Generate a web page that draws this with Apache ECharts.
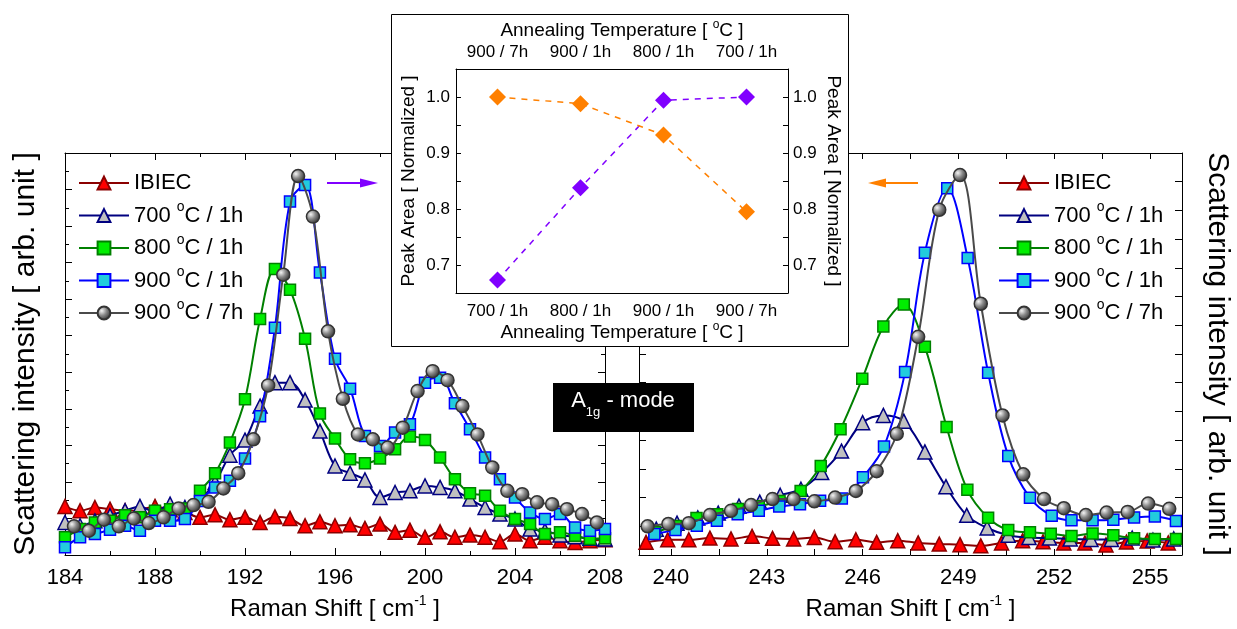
<!DOCTYPE html>
<html>
<head>
<meta charset="utf-8">
<script src="https://cdn.jsdelivr.net/npm/echarts@6/dist/echarts.min.js"></script>
<style>html,body{margin:0;padding:0;background:#fff;}#c{width:1237px;height:629px;}</style>
</head>
<body>
<div id="c"></div>
<script>
// ---------- DATA ----------
// Left panel (Raman shift 184-208 cm-1)
const L_X = [184.00,184.67,185.33,186.00,186.67,187.33,188.00,188.67,189.33,190.00,190.67,191.33,192.00,192.67,193.33,194.00,194.67,195.33,196.00,196.67,197.33,198.00,198.67,199.33,200.00,200.67,201.33,202.00,202.67,203.33,204.00,204.67,205.33,206.00,206.67,207.33,208.00];
const L_X_7H = [184.40,185.06,185.73,186.39,187.06,187.72,188.38,189.05,189.71,190.38,191.04,191.70,192.37,193.03,193.70,194.36,195.02,195.69,196.35,197.02,197.68,198.34,199.01,199.67,200.34,201.00,201.66,202.33,202.99,203.66,204.32,204.98,205.65,206.31,206.98,207.64];
const L_IBIEC = [2.66,2.42,2.60,2.51,2.42,2.47,2.66,2.47,2.33,2.06,2.20,1.93,2.06,1.78,2.09,2.00,1.60,1.82,1.60,1.65,1.46,1.69,1.24,1.36,0.97,1.27,0.97,1.09,0.97,0.73,1.15,0.78,0.97,0.78,0.69,0.78,0.84];
const L_700 = [1.78,1.60,1.87,2.15,2.42,2.66,2.33,2.78,2.60,3.06,3.97,5.46,6.29,8.15,9.43,9.43,8.48,6.78,4.87,4.48,4.11,3.15,3.42,3.51,3.78,3.70,3.51,3.06,2.60,2.24,1.97,1.42,1.33,1.09,1.00,0.91,0.87];
const L_800 = [0.97,1.42,1.78,1.87,2.18,2.06,2.42,2.51,2.55,3.51,4.48,6.15,8.52,12.92,15.65,14.52,11.83,7.75,6.37,5.24,5.02,5.28,5.79,6.48,6.29,5.33,4.15,3.38,3.24,2.42,1.97,1.69,1.15,1.24,1.05,0.87,0.91];
const L_900 = [0.42,0.97,1.15,1.38,1.60,1.33,1.87,1.87,1.97,2.96,3.70,4.06,5.28,7.60,12.43,19.34,20.25,15.46,10.74,9.10,6.51,5.97,6.70,7.15,9.43,9.70,8.30,6.88,5.33,4.15,3.15,2.33,1.97,2.24,1.51,1.33,1.42];
const L_7H = [1.57,1.33,1.93,1.57,2.00,1.75,2.06,2.55,2.73,2.91,3.64,4.48,6.33,9.28,15.34,20.74,18.52,12.24,8.55,6.60,6.33,5.88,6.97,8.97,10.06,9.57,8.15,6.60,4.79,3.51,3.33,2.88,2.78,2.51,2.24,1.78];

// Right panel (Raman shift 239-256 cm-1)
const R_X_IBIEC = [239.22,239.90,240.56,241.22,241.88,242.54,243.18,243.84,244.49,245.14,245.79,246.44,247.10,247.74,248.40,249.05,249.70,250.35,251.01,251.65,252.30,252.96,253.62,254.26,254.91,255.57];
const R_IBIEC = [0.44,0.53,0.53,0.59,0.56,0.65,0.58,0.56,0.61,0.46,0.53,0.44,0.50,0.42,0.38,0.36,0.32,0.42,0.50,0.46,0.42,0.42,0.35,0.45,0.49,0.42];
const R_X_700 = [239.54,240.19,240.84,241.48,242.13,242.78,243.42,244.07,244.72,245.34,246.00,246.65,247.29,247.95,248.61,249.26,249.90,250.56,251.21,251.85,252.50,253.15,253.79,254.44,255.09,255.74];
const R_700 = [0.90,1.11,1.29,1.46,1.70,1.84,2.08,2.29,2.87,3.62,4.61,4.86,4.66,3.59,2.38,1.38,0.94,0.69,0.61,0.59,0.56,0.54,0.54,0.59,0.52,0.56];
const R_X_800 = [239.50,240.15,240.80,241.45,242.10,242.75,243.40,244.06,244.69,245.31,245.99,246.65,247.29,247.95,248.63,249.28,249.93,250.56,251.24,251.89,252.54,253.20,253.85,254.50,255.15,255.81];
const R_800 = [0.80,1.01,1.29,1.42,1.60,1.70,1.88,2.23,3.10,4.38,6.14,7.96,8.72,7.25,4.46,2.27,1.30,0.87,0.79,0.74,0.66,0.75,0.69,0.58,0.56,0.56];
const R_X_900 = [239.48,240.14,240.81,241.44,242.09,242.75,243.39,244.04,244.67,245.35,246.01,246.67,247.33,247.95,248.65,249.29,249.93,250.56,251.24,251.92,252.54,253.20,253.85,254.50,255.15,255.81];
const R_900 = [0.73,0.87,1.02,1.19,1.42,1.54,1.69,1.77,1.89,1.97,2.71,3.78,6.37,10.53,12.77,10.34,6.35,3.45,1.99,1.37,1.21,1.21,1.23,1.31,1.34,1.18];
const R_X_7H = [239.27,239.92,240.56,241.22,241.88,242.51,243.18,243.84,244.49,245.14,245.79,246.44,247.07,247.74,248.40,249.05,249.70,250.38,251.03,251.68,252.30,252.99,253.64,254.30,254.94,255.60];
const R_7H = [1.00,1.08,1.11,1.39,1.54,1.74,1.95,1.95,1.87,2.00,2.23,2.92,4.22,7.60,12.02,13.23,8.75,4.86,2.81,1.95,1.63,1.39,1.48,1.50,1.79,1.61];
const R_TICK_LABELS = [240,243,246,249,252,255];
const R_TICKS = [240,241.5,243,244.5,246,247.5,249,250.5,252,253.5,255];

// Inset
const INSET_CATS_BOTTOM = ['700 / 1h','800 / 1h','900 / 1h','900 / 7h'];
const INSET_CATS_TOP = ['900 / 7h','900 / 1h','800 / 1h','700 / 1h'];
const INSET_PURPLE = [0.673,0.838,0.994,1.000];
const INSET_ORANGE = [1.000,0.988,0.932,0.795];

const SERIES_NAMES = ['IBIEC','700 °C / 1h','800 °C / 1h','900 °C / 1h','900 °C / 7h'];

// ---------- STYLE ----------
const FONT = '"Liberation Sans", Arial, Helvetica, sans-serif';
const BLACK = '#000';
const sphere = {type:'radial', x:0.35, y:0.35, r:0.7, colorStops:[{offset:0,color:'#f4f4f4'},{offset:0.45,color:'#8a8a8a'},{offset:1,color:'#2a2a2a'}]};
const STY = [
  {symbol:'triangle', size:14, line:'#8b0000', fill:'#ff0000', border:'#8b0000'},
  {symbol:'triangle', size:14, line:'#000080', fill:'#c0c0c0', border:'#000080'},
  {symbol:'rect', size:11, line:'#008000', fill:'#00ee00', border:'#008000'},
  {symbol:'rect', size:11, line:'#0000ff', fill:'#22ccdd', border:'#0000ff'},
  {symbol:'circle', size:13, line:'#4a4a4a', fill:sphere, border:'#333333'}
];
const supRich = (fs) => ({sup:{fontSize:fs, fontFamily:FONT, color:BLACK, verticalAlign:'top'}});

function zip(xs, ys){ return xs.map((x,i)=>[x, ys[i]]); }
function mk(i, xs, ys, xi, yi){
  const s = STY[i];
  return {
    type:'line', name:SERIES_NAMES[i], xAxisIndex:xi, yAxisIndex:yi,
    data: zip(xs, ys), smooth:0.35, symbol:s.symbol, symbolSize:s.size,
    showAllSymbol:true, animation:false, z:3+i,
    lineStyle:{color:s.line, width:2},
    itemStyle:{color:s.fill, borderColor:s.border, borderWidth:1.5}
  };
}
function frame(grid, opts){
  return Object.assign({
    type:'value', gridIndex:grid,
    axisLine:{onZero:false, lineStyle:{color:BLACK, width:1}},
    axisTick:{inside:true, length:7, lineStyle:{color:BLACK}},
    splitLine:{show:false}, minorSplitLine:{show:false},
    axisLabel:{show:false}
  }, opts);
}
const tickLabel = {show:true, fontSize:22, color:BLACK, fontFamily:FONT, margin:12};
const xName = {name:'Raman Shift [ cm{sup|-1} ]', nameLocation:'middle', nameGap:39,
  nameTextStyle:{fontSize:24, lineHeight:30, color:BLACK, fontFamily:FONT, rich:supRich(14)}};
const yNameStyle = {fontSize:30, color:BLACK, fontFamily:FONT};
const insetLbl = {show:true, fontSize:17, color:BLACK, fontFamily:FONT};
const insetName = 'Annealing Temperature [ {sup|o}C ]';
const insetNameStyle = {fontSize:19, lineHeight:24, color:BLACK, fontFamily:FONT, rich:supRich(12)};
const insetYFmt = v => (Math.abs(v*10 - Math.round(v*10)) < 1e-6 ? v.toFixed(1) : '');

const legendBase = {
  orient:'vertical', itemWidth:50, itemHeight:16, itemGap:2.5, selectedMode:false, padding:0,
  data:SERIES_NAMES, formatter: n => n.replace('°','{sup|o}'),
  textStyle:{fontSize:22, color:BLACK, fontFamily:FONT, lineHeight:30, rich:supRich(14)}
};

const option = {
  animation:false,
  backgroundColor:'#fff',
  grid:[
    {left:65, top:153, width:540, height:403},
    {left:639, top:153, width:543, height:403},
    {left:456, top:69, width:332, height:224}
  ],
  legend:[
    Object.assign({left:78, top:168}, legendBase),
    Object.assign({left:998, top:168}, legendBase)
  ],
  xAxis:[
    frame(0, Object.assign({min:184, max:208, interval:4, position:'bottom',
      minorTick:{show:true, splitNumber:2, length:4, lineStyle:{color:BLACK}},
      axisLabel:tickLabel}, xName)),
    frame(0, {min:184, max:208, interval:4, position:'top',
      minorTick:{show:true, splitNumber:2, length:4, lineStyle:{color:BLACK}}}),
    frame(1, Object.assign({min:239, max:256, position:'bottom',
      axisTick:{inside:true, length:6, customValues:R_TICKS, lineStyle:{color:BLACK}},
      axisLabel:Object.assign({customValues:R_TICK_LABELS}, tickLabel)}, xName)),
    frame(1, {min:239, max:256, position:'top',
      axisTick:{inside:true, length:6, customValues:R_TICKS, lineStyle:{color:BLACK}}}),
    {type:'category', gridIndex:2, position:'bottom', data:INSET_CATS_BOTTOM, z:15,
      axisLine:{lineStyle:{color:BLACK}}, axisTick:{inside:true, length:5, lineStyle:{color:BLACK}},
      axisLabel:Object.assign({margin:10}, insetLbl),
      name:insetName, nameLocation:'middle', nameGap:28, nameTextStyle:insetNameStyle},
    {type:'category', gridIndex:2, position:'top', data:INSET_CATS_TOP, z:15,
      axisLine:{lineStyle:{color:BLACK}}, axisTick:{inside:true, length:5, lineStyle:{color:BLACK}},
      axisLabel:Object.assign({margin:8}, insetLbl),
      name:insetName, nameLocation:'middle', nameGap:26, nameTextStyle:insetNameStyle}
  ],
  yAxis:[
    frame(0, {min:0, max:22, interval:2, position:'left',
      minorTick:{show:true, splitNumber:2, length:4, lineStyle:{color:BLACK}},
      name:'Scattering intensity [ arb. unit ]', nameLocation:'middle', nameGap:24, nameTextStyle:yNameStyle}),
    frame(0, {min:0, max:22, interval:2, position:'right',
      minorTick:{show:true, splitNumber:2, length:4, lineStyle:{color:BLACK}}}),
    frame(1, {min:0, max:14, interval:1, position:'left'}),
    frame(1, {min:0, max:14, interval:1, position:'right',
      name:'Scattering intensity [ arb. unit ]', nameLocation:'middle', nameRotate:-90, nameGap:20, nameTextStyle:yNameStyle}),
    {type:'value', gridIndex:2, position:'left', min:0.65, max:1.05, interval:0.05, z:15,
      axisLine:{show:true, onZero:false, lineStyle:{color:BLACK}}, axisTick:{show:true, inside:true, length:5, lineStyle:{color:BLACK}},
      splitLine:{show:false}, axisLabel:Object.assign({formatter:insetYFmt, margin:6}, insetLbl),
      name:'Peak Area [ Normalized ]', nameLocation:'middle', nameGap:38, nameTextStyle:{fontSize:19, color:BLACK, fontFamily:FONT}},
    {type:'value', gridIndex:2, position:'right', min:0.65, max:1.05, interval:0.05, z:15,
      axisLine:{show:true, onZero:false, lineStyle:{color:BLACK}}, axisTick:{show:true, inside:true, length:5, lineStyle:{color:BLACK}},
      splitLine:{show:false}, axisLabel:Object.assign({formatter:insetYFmt, margin:5}, insetLbl),
      name:'Peak Area [ Normalized ]', nameLocation:'middle', nameRotate:-90, nameGap:36, nameTextStyle:{fontSize:19, color:BLACK, fontFamily:FONT}}
  ],
  series:[
    mk(0, L_X, L_IBIEC, 0, 0), mk(1, L_X, L_700, 0, 0), mk(2, L_X, L_800, 0, 0), mk(3, L_X, L_900, 0, 0), mk(4, L_X_7H, L_7H, 0, 0),
    mk(0, R_X_IBIEC, R_IBIEC, 2, 2), mk(1, R_X_700, R_700, 2, 2), mk(2, R_X_800, R_800, 2, 2), mk(3, R_X_900, R_900, 2, 2), mk(4, R_X_7H, R_7H, 2, 2),
    {type:'line', name:'inset-purple', xAxisIndex:4, yAxisIndex:4, data:INSET_PURPLE, z:16,
      symbol:'diamond', symbolSize:17, lineStyle:{color:'#8000ff', width:1.5, type:[6,6]}, itemStyle:{color:'#8000ff'}},
    {type:'line', name:'inset-orange', xAxisIndex:5, yAxisIndex:5, data:INSET_ORANGE, z:16,
      symbol:'diamond', symbolSize:17, lineStyle:{color:'#ff8000', width:1.5, type:[6,6]}, itemStyle:{color:'#ff8000'}}
  ],
  graphic:[
    {type:'rect', z:10, shape:{x:391.5, y:14.5, width:457, height:332}, style:{fill:'#fff', stroke:'#000', lineWidth:1}},
    {type:'line', z:12, shape:{x1:327, y1:183, x2:362, y2:183}, style:{stroke:'#8000ff', lineWidth:2}},
    {type:'polygon', z:12, shape:{points:[[378,183],[360,178.5],[360,187.5]]}, style:{fill:'#8000ff'}},
    {type:'line', z:12, shape:{x1:886, y1:183, x2:918, y2:183}, style:{stroke:'#ff8000', lineWidth:2}},
    {type:'polygon', z:12, shape:{points:[[868,183],[886,178.5],[886,187.5]]}, style:{fill:'#ff8000'}},
    {type:'rect', z:40, shape:{x:553, y:383, width:141, height:49}, style:{fill:'#000'}},
    {type:'text', z:41, style:{x:623, y:401, text:'A{sub|1g} - mode', fill:'#fff', fontSize:22, fontFamily:FONT, lineHeight:35,
      align:'center', verticalAlign:'middle', rich:{sub:{fontSize:13, fontFamily:FONT, fill:'#fff', verticalAlign:'bottom'}}}}
  ]
};
const chart = echarts.init(document.getElementById('c'), null, {renderer:'canvas'});
chart.setOption(option);
</script>
</body>
</html>
